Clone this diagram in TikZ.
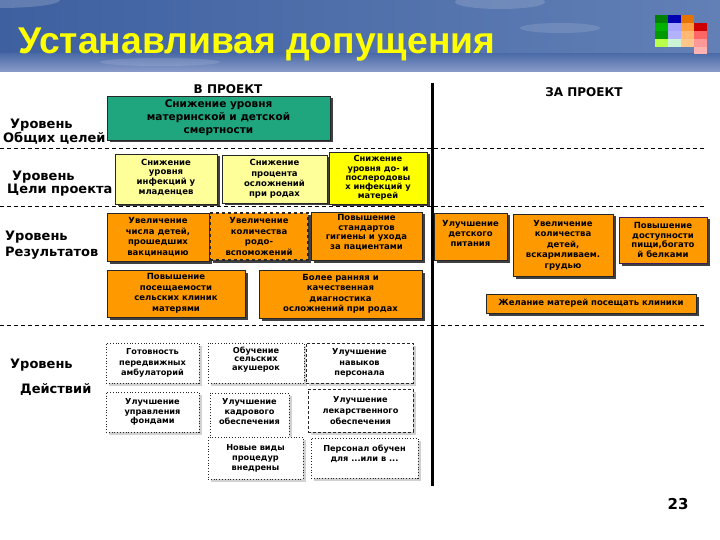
\documentclass[tikz,border=0pt]{standalone}
\usepackage{fontspec}
\usepackage{graphicx}
\setmainfont{DejaVu Sans}
\newfontfamily\ttlfont{Liberation Sans}
\usetikzlibrary{shadows}
\definecolor{ogreen}{RGB}{32,166,126}
\definecolor{lyel}{RGB}{255,255,153}
\definecolor{byel}{RGB}{255,255,0}
\definecolor{oran}{RGB}{255,153,0}
\definecolor{bnA}{RGB}{62,96,160}
\definecolor{bnB}{RGB}{98,128,182}
\definecolor{bnC}{RGB}{140,156,202}
\definecolor{ttl}{RGB}{255,255,0}
\begin{document}
\begin{tikzpicture}[x=1pt,y=-1pt,
  box/.style={draw=black!85, line width=0.8pt, align=center, inner sep=1pt,
    font=\bfseries\fontsize{8.5}{10.2}\selectfont, text=black},
  dshd/.style={drop shadow={shadow xshift=2.5pt, shadow yshift=-2.5pt, fill=black!75, opacity=1}},
  lshd/.style={drop shadow={shadow xshift=3pt, shadow yshift=-3pt, fill=black!18, opacity=1}},
  gbox/.style={box, dshd, fill=ogreen, font=\bfseries\fontsize{10.5}{13}\selectfont},
  ybox/.style={box, dshd, fill=lyel},
  yybox/.style={box, dshd, fill=byel},
  obox/.style={box, dshd, fill=oran, font=\bfseries\fontsize{8.5}{10.5}\selectfont},
  abox/.style={box, lshd, fill=white, dotted, line width=0.8pt, font=\bfseries\fontsize{8.2}{10.5}\selectfont},
  adbox/.style={abox, dash pattern=on 3pt off 2pt},
  lvl/.style={anchor=west, inner sep=0pt, font=\bfseries\fontsize{13}{15}\selectfont},
  hdr/.style={inner sep=0pt, font=\bfseries\fontsize{12}{14}\selectfont},
  sep/.style={line width=0.9pt, dash pattern=on 4pt off 3pt}
]
\useasboundingbox (0,0) rectangle (720,540);
% banner
\shade[left color=bnA, right color=bnB] (0,0) rectangle (720,72);
\shade[top color=bnA!60!bnB, bottom color=bnC] (0,54) rectangle (720,72);
\fill[white, opacity=0.18] (0,0) ellipse (60 and 8);
\fill[white, opacity=0.15] (500,2) ellipse (45 and 7);
\fill[white, opacity=0.12] (560,28) ellipse (40 and 5);
\fill[white, opacity=0.12] (160,62) ellipse (60 and 4);
% logo
\foreach \c/\cl in {0/{green!50!black}, 1/{blue!70!black}, 2/{orange!90!black}}
  \fill[\cl] (655+13*\c,15) rectangle ++(12.5,8);
\foreach \r/\a/\b/\cc/\d in {1/green!70!black/blue!35/orange!75/red!80!black,
                             2/green!60!black/blue!30/orange!55/red!60,
                             3/green!40!yellow!70/blue!20!green!20/orange!45/red!40}{
  \fill[\a] (655,15+8*\r) rectangle ++(12.5,8);
  \fill[\b] (668,15+8*\r) rectangle ++(12.5,8);
  \fill[\cc] (681,15+8*\r) rectangle ++(12.5,8);
  \fill[\d] (694,15+8*\r) rectangle ++(12.5,8);
}
\fill[red!30] (694,47) rectangle ++(12.5,7);
% title
\node[anchor=base west, inner sep=0pt, text=ttl] (title) at (18,54)
  {\resizebox{477pt}{!}{\ttlfont\bfseries Устанавливая допущения}};
% separators
\draw[sep] (0,148) -- (705,148);
\draw[sep] (0,206) -- (705,206);
\draw[sep] (0,325) -- (705,325);
\coordinate (vtop) at (432,83);
\coordinate (vbot) at (432,486);
\draw[line width=3pt] (vtop) -- (vbot);
% headers
\node[hdr] (hin) at (228,89) {В ПРОЕКТ};
\node[hdr] (hout) at (584,92) {ЗА ПРОЕКТ};
% level labels
\node[lvl] (l1a) at (10,125) {Уровень};
\node[lvl] (l1b) at (3,138) {Общих целей};
\node[lvl] (l2a) at (12,177) {Уровень};
\node[lvl] (l2b) at (7,190) {Цели проекта};
\node[lvl] (l3a) at (5,237) {Уровень};
\node[lvl] (l3b) at (5,253) {Результатов};
\node[lvl] (l4a) at (10,365) {Уровень};
\node[lvl] (l4b) at (20,390) {Действий};
% goal
\node[gbox, minimum width=223pt, minimum height=44pt] (g) at (218.5,118)
  {Снижение уровня\\материнской и детской\\смертности};
% purpose
\node[ybox, minimum width=102pt, minimum height=50pt, font=\bfseries\fontsize{8.5}{9.8}\selectfont] (y1) at (166,179)
  {Снижение\\уровня\\инфекций у\\младенцев\\[-5pt]};
\node[ybox, minimum width=105pt, minimum height=48pt] (y2) at (274.5,179)
  {Снижение\\процента\\осложнений\\при родах};
\node[yybox, minimum width=98pt, minimum height=52pt, font=\bfseries\fontsize{8.3}{9.2}\selectfont] (y3) at (378,178)
  {Снижение\\уровня до- и\\послеродовы\\х инфекций у\\матерей};
% results
\node[obox, minimum width=102pt, minimum height=48pt] (o1) at (158,237)
  {Увеличение\\числа детей,\\прошедших\\вакцинацию};
\node[obox, minimum width=98pt, minimum height=47pt, dashed, line width=1.5pt] (o2) at (259,236.5)
  {Увеличение\\количества\\родо-\\вспоможений};
\node[obox, minimum width=111pt, minimum height=48pt, font=\bfseries\fontsize{8.5}{9.5}\selectfont] (o3) at (366.5,236)
  {Повышение\\стандартов\\гигиены и ухода\\за пациентами\\[-1.5pt]};
\node[obox, minimum width=138pt, minimum height=47pt] (o4) at (176,293.5)
  {Повышение\\посещаемости\\сельских клиник\\матерями};
\node[obox, minimum width=163pt, minimum height=48pt] (o5) at (340.5,294)
  {Более ранняя и\\качественная\\диагностика\\осложнений при родах};
\node[obox, minimum width=73pt, minimum height=47pt, font=\bfseries\fontsize{8.5}{10}\selectfont] (ra) at (470.5,236.5)
  {Улучшение\\детского\\питания\\[-3pt]};
\node[obox, minimum width=100pt, minimum height=62pt] (rb) at (563,245)
  {Увеличение\\количества\\детей,\\вскармливаем.\\грудью};
\node[obox, minimum width=88pt, minimum height=46pt, draw={rgb,255:red,60;green,30;blue,90}, font=\bfseries\fontsize{8.5}{9.5}\selectfont] (rc) at (663,240)
  {Повышение\\доступности\\пищи,богато\\й белками};
\node[obox, minimum width=210pt, minimum height=19pt] (rd) at (591,303.5)
  {Желание матерей посещать клиники};
% activities
\node[abox, minimum width=93pt, minimum height=40pt] (a1) at (152.5,363)
  {Готовность\\передвижных\\амбулаторий};
\node[abox, minimum width=96pt, minimum height=40pt, font=\bfseries\fontsize{8.2}{8.5}\selectfont] (a2) at (256,363)
  {Обучение\\сельских\\акушерок\\[0.5pt]};
\node[adbox, minimum width=107pt, minimum height=40pt] (a3) at (359.5,363)
  {Улучшение\\навыков\\персонала};
\node[abox, minimum width=93pt, minimum height=40pt, font=\bfseries\fontsize{8.2}{9.5}\selectfont] (a4) at (152.5,412)
  {Улучшение\\управления\\фондами};
\node[abox, minimum width=79pt, minimum height=44pt, font=\bfseries\fontsize{8.2}{10}\selectfont] (a5) at (249.5,415)
  {Улучшение\\кадрового\\обеспечения\\[-4pt]};
\node[adbox, minimum width=105pt, minimum height=43pt, font=\bfseries\fontsize{8.2}{11}\selectfont] (a6) at (360.5,410.5)
  {Улучшение\\лекарственного\\обеспечения};
\node[abox, minimum width=95pt, minimum height=42pt, font=\bfseries\fontsize{8.2}{10}\selectfont] (a7) at (255.5,458)
  {Новые виды\\процедур\\внедрены};
\node[abox, minimum width=107pt, minimum height=40pt, font=\bfseries\fontsize{8.2}{10}\selectfont] (a8) at (364.5,458)
  {Персонал обучен\\для ...или в ...\\[0pt]};
% page number
\node[inner sep=0pt, font=\bfseries\fontsize{15}{17}\selectfont] (pg) at (678,504) {23};
\end{tikzpicture}
\end{document}
